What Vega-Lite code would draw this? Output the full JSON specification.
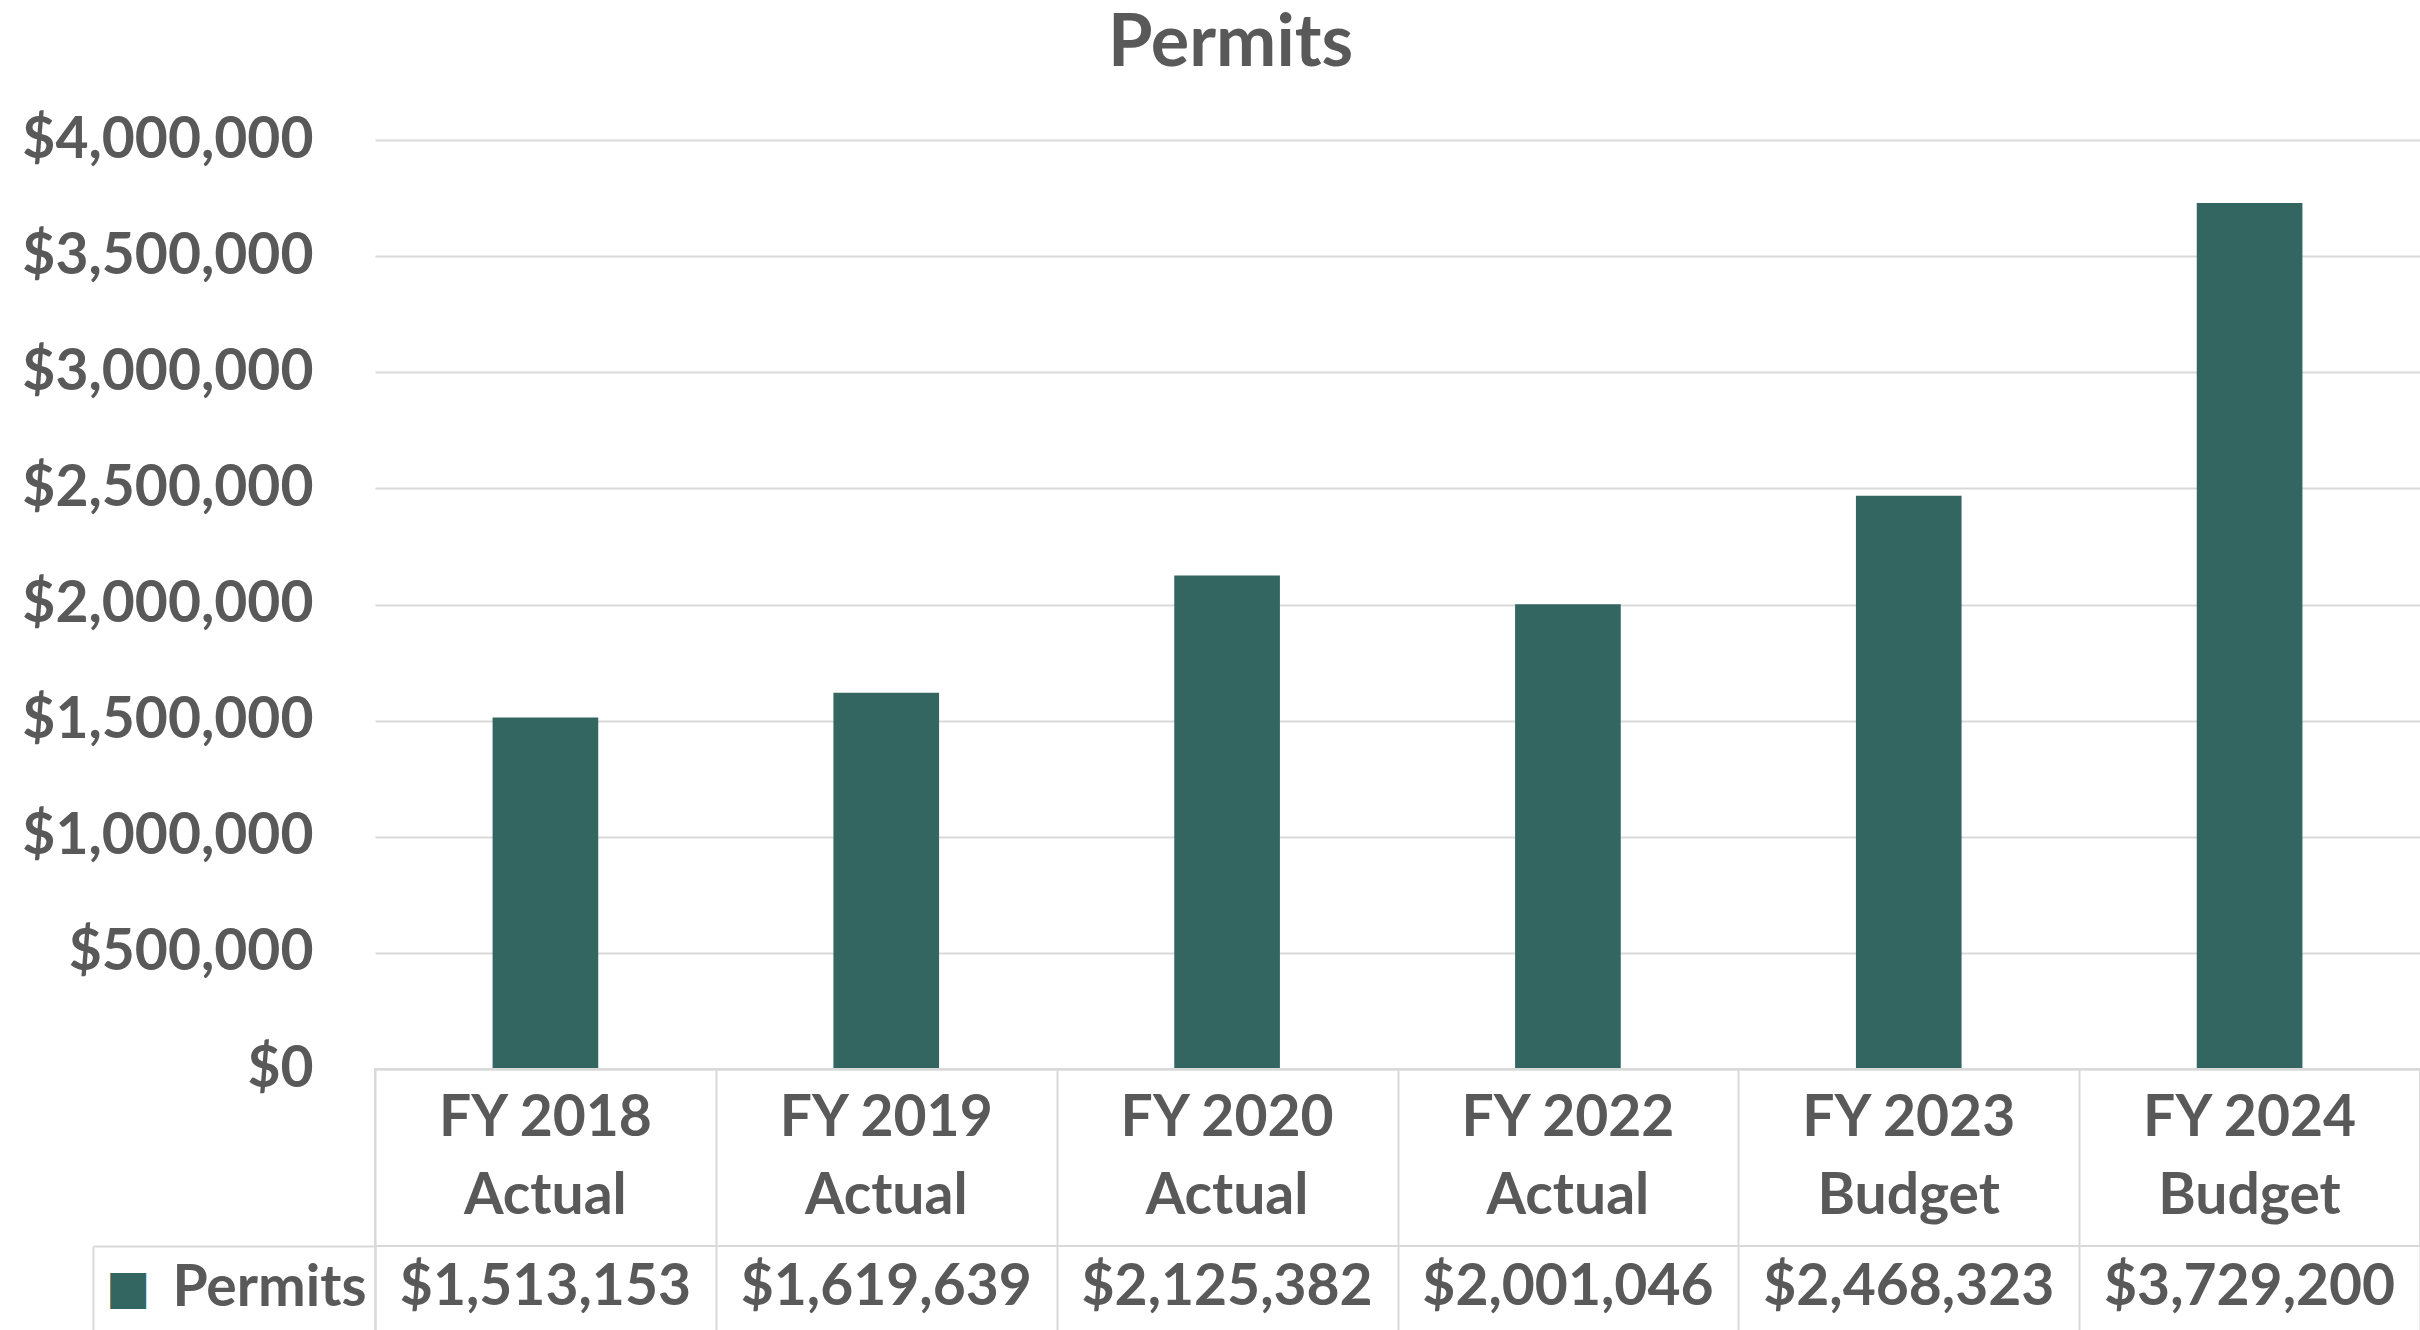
{
  "$schema": "https://vega.github.io/schema/vega-lite/v6.json",
  "padding": {"top": 8, "left": 0, "right": 0, "bottom": 0},
  "background": "white",
  "title": {"text": "Permits", "font": "Lato", "fontSize": 72, "fontWeight": "bold", "color": "#595959", "anchor": "middle", "frame": "bounds", "offset": 30, "dx": 20},
  "config": {"view": {"stroke": null}, "font": "Lato", "concat": {"spacing": 0}},
  "bounds": "flush",
  "spacing": 0,
  "datasets": {
    "permits": [
      {"period": "FY 2018 Actual", "label": "FY 2018\nActual", "series": "Permits", "amount": 1513153},
      {"period": "FY 2019 Actual", "label": "FY 2019\nActual", "series": "Permits", "amount": 1619639},
      {"period": "FY 2020 Actual", "label": "FY 2020\nActual", "series": "Permits", "amount": 2125382},
      {"period": "FY 2022 Actual", "label": "FY 2022\nActual", "series": "Permits", "amount": 2001046},
      {"period": "FY 2023 Budget", "label": "FY 2023\nBudget", "series": "Permits", "amount": 2468323},
      {"period": "FY 2024 Budget", "label": "FY 2024\nBudget", "series": "Permits", "amount": 3729200}
    ]
  },
  "vconcat": [
    {
      "width": 2045,
      "height": 929,
      "data": {"name": "permits"},
      "mark": {"type": "bar", "color": "#336660", "width": {"band": 0.31}},
      "encoding": {
        "x": {
          "field": "period", "type": "nominal", "sort": null,
          "scale": {"type": "band", "paddingInner": 0, "paddingOuter": 0},
          "axis": {"title": null, "labels": false, "ticks": false, "domain": true, "domainColor": "#d9d9d9", "domainWidth": 2, "grid": false}
        },
        "y": {
          "field": "amount", "type": "quantitative",
          "scale": {"domain": [0, 4000000], "nice": false},
          "axis": {
            "title": null,
            "values": [0, 500000, 1000000, 1500000, 2000000, 2500000, 3000000, 3500000, 4000000],
            "format": "$,.0f",
            "labelFont": "Lato", "labelFontSize": 57, "labelFontWeight": "bold", "labelColor": "#595959", "labelLimit": 0,
            "labelPadding": 62, "ticks": false, "domain": false, "minExtent": 375,
            "grid": true, "gridColor": "#d9d9d9", "gridWidth": 2
          }
        }
      }
    },
    {
      "width": 2045,
      "height": 177,
      "data": {"name": "permits"},
      "view": {"stroke": "#d9d9d9", "strokeWidth": 2},
      "mark": {"type": "text", "font": "Lato", "fontSize": 57, "fontWeight": "bold", "color": "#595959", "baseline": "line-bottom", "lineBreak": "\n", "lineHeight": 78},
      "encoding": {
        "x": {
          "field": "period", "type": "nominal", "sort": null,
          "scale": {"type": "band", "paddingInner": 0, "paddingOuter": 0},
          "axis": {"title": null, "labels": false, "ticks": false, "domain": false, "grid": true, "tickBand": "extent", "gridColor": "#d9d9d9", "gridWidth": 2}
        },
        "text": {"field": "label", "type": "nominal"}
      }
    },
    {
      "width": 2045,
      "height": 84,
      "data": {"name": "permits"},
      "layer": [
        {
          "mark": {"type": "text", "font": "Lato", "fontSize": 57, "fontWeight": "bold", "color": "#595959", "baseline": "middle"},
          "encoding": {
            "x": {
              "field": "period", "type": "nominal", "sort": null,
              "scale": {"type": "band", "paddingInner": 0, "paddingOuter": 0},
              "axis": {"title": null, "labels": false, "ticks": false, "domain": false, "grid": true, "tickBand": "extent", "gridColor": "#d9d9d9", "gridWidth": 2}
            },
            "y": {
              "field": "series", "type": "nominal",
              "axis": {
                "title": null, "orient": "left",
                "labelFont": "Lato", "labelFontSize": 57, "labelFontWeight": "bold", "labelColor": "#595959", "labelLimit": 0,
                "labelPadding": 9, "ticks": false, "domain": true, "domainColor": "#d9d9d9", "domainWidth": 2, "grid": false
              }
            },
            "text": {"field": "amount", "type": "quantitative", "format": "$,.0f"}
          }
        },
        {
          "mark": {"type": "text", "opacity": 0},
          "encoding": {
            "x": {
              "field": "period", "type": "nominal", "sort": null,
              "scale": {"type": "band", "paddingInner": 0, "paddingOuter": 0},
              "axis": {"title": null, "labels": false, "ticks": false, "domain": false, "grid": true, "tickBand": "extent", "gridColor": "#d9d9d9", "gridWidth": 2}
            },
            "y": {
              "field": "series", "type": "nominal",
              "axis": {
                "title": null, "orient": "left", "offset": 225,
                "labelExpr": "'■'", "labelFont": "DejaVu Sans", "labelFontSize": 47, "labelColor": "#336660",
                "labelPadding": 0, "ticks": false, "domain": false, "grid": false
              }
            },
            "text": {"field": "amount", "type": "quantitative", "format": "$,.0f"}
          }
        },
        {
          "mark": {"type": "text", "opacity": 0},
          "encoding": {
            "x": {
              "field": "period", "type": "nominal", "sort": null,
              "scale": {"type": "band", "paddingInner": 0, "paddingOuter": 0},
              "axis": {"title": null, "labels": false, "ticks": false, "domain": false, "grid": true, "tickBand": "extent", "gridColor": "#d9d9d9", "gridWidth": 2}
            },
            "y": {
              "field": "series", "type": "nominal",
              "axis": {
                "title": null, "orient": "left", "offset": 282,
                "labels": false, "ticks": false, "domain": true, "domainColor": "#d9d9d9", "domainWidth": 2, "grid": false
              }
            },
            "text": {"field": "amount", "type": "quantitative", "format": "$,.0f"}
          }
        },
        {
          "mark": {"type": "text", "opacity": 0},
          "encoding": {
            "x": {
              "field": "period", "type": "nominal", "sort": null,
              "scale": {"type": "band", "paddingInner": 0, "paddingOuter": 0},
              "axis": {"title": null, "labels": false, "ticks": false, "domain": false, "grid": true, "tickBand": "extent", "gridColor": "#d9d9d9", "gridWidth": 2}
            },
            "y": {
              "field": "series", "type": "nominal",
              "axis": {
                "title": null, "orient": "left", "offset": 0,
                "labels": false, "ticks": true, "tickSize": 282, "tickOffset": -42, "tickColor": "#d9d9d9", "tickWidth": 2,
                "domain": false, "grid": false
              }
            },
            "text": {"field": "amount", "type": "quantitative", "format": "$,.0f"}
          }
        }
      ],
      "resolve": {"axis": {"y": "independent"}}
    }
  ]
}
